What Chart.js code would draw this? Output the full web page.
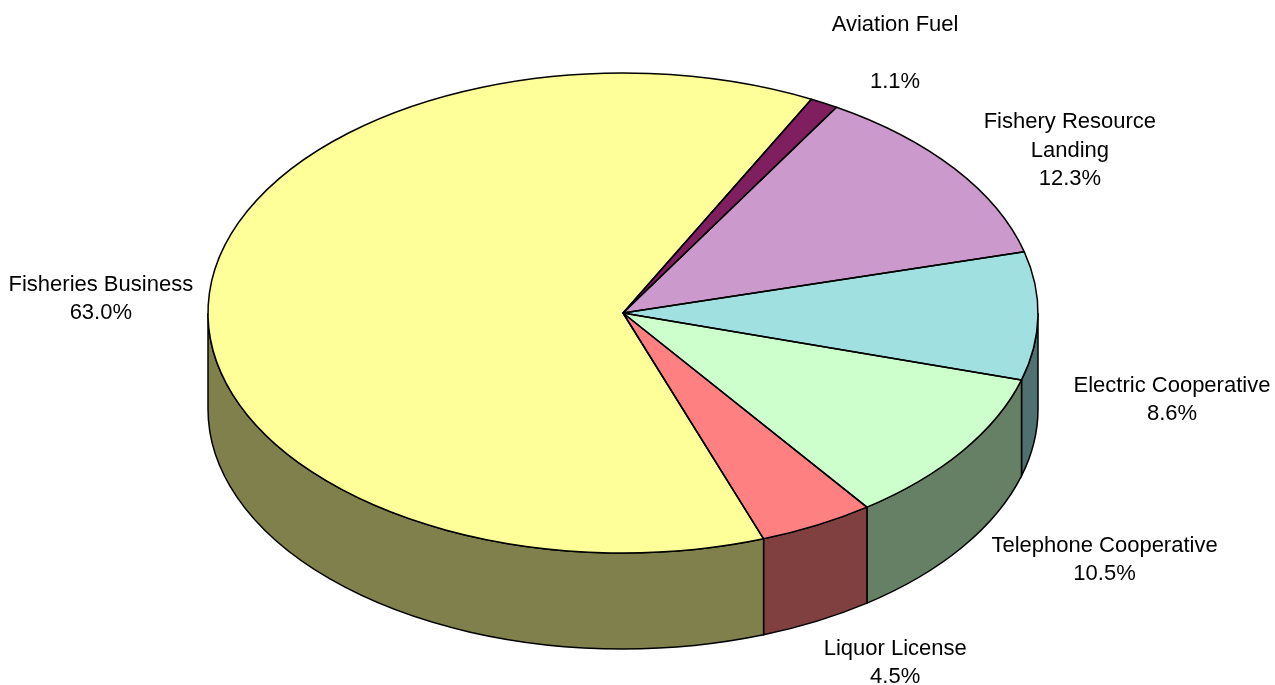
<!DOCTYPE html>
<html lang="en">
<head>
    <meta charset="UTF-8">
    <title>3D pie</title>
    <script src="https://cdn.jsdelivr.net/npm/chart.js@4"></script>
    <style>
        body { margin: 0; background: #fff; }
    </style>
</head>
<body>
    <canvas id="pieChart" width="1275" height="685"></canvas>
    <script>
        // data, clockwise from the top
        const categories = ["Aviation Fuel", "Fishery Resource\nLanding", "Electric Cooperative", "Telephone Cooperative", "Liquor License", "Fisheries Business"];
        const shares = [1.1, 12.3, 8.6, 10.5, 4.5, 63.0];
        const topColors = ["#801F60", "#CC99CC", "#A0E0E0", "#CCFFCC", "#FF8080", "#FFFF99"];
        const sideColors = ["#400F30", "#664C66", "#4F7070", "#668066", "#804040", "#80804C"];

        // layout stuff
        const xStretch = 415 / 240;
        const depth = 96;
        const labelOffsets = [[71, -50], [115, -18], [134, 84], [142, 109], [78, 138], [-108, 1]];
        const labelLineH = 28.5;

        function frontRanges(a0, a1) {
            let out = [];
            for (let k = -1; k <= 1; k++) {
                let s = Math.max(a0, k * 2 * Math.PI);
                let e = Math.min(a1, k * 2 * Math.PI + Math.PI);
                if (e > s) out.push([s, e]);
            }
            return out;
        }

        const pie3d = {
            id: "pie3d",
            beforeDatasetsDraw(chart) {
                const ctx = chart.ctx;
                const arcs = chart.getDatasetMeta(0).data;
                ctx.save();
                ctx.lineWidth = 1.5;
                ctx.strokeStyle = "#000";
                arcs.forEach((arc, i) => {
                    const cx = arc.x, cy = arc.y;
                    const ry = arc.outerRadius, rx = ry * xStretch;
                    frontRanges(arc.startAngle, arc.endAngle).forEach(([s, e]) => {
                        ctx.beginPath();
                        ctx.moveTo(cx + rx * Math.cos(s), cy + ry * Math.sin(s));
                        ctx.ellipse(cx, cy, rx, ry, 0, s, e, false);
                        ctx.lineTo(cx + rx * Math.cos(e), cy + depth + ry * Math.sin(e));
                        ctx.ellipse(cx, cy + depth, rx, ry, 0, e, s, true);
                        ctx.closePath();
                        ctx.fillStyle = sideColors[i];
                        ctx.fill();
                        ctx.stroke();
                    });
                });
                ctx.restore();
            },
            beforeDatasetDraw(chart) {
                const ctx = chart.ctx;
                const arc = chart.getDatasetMeta(0).data[0];
                ctx.save();
                ctx.translate(arc.x, arc.y);
                ctx.scale(xStretch, 1);
                ctx.translate(-arc.x, -arc.y);
            },
            afterDatasetDraw(chart) {
                chart.ctx.restore();
            },
            afterDatasetsDraw(chart) {
                const ctx = chart.ctx;
                const arcs = chart.getDatasetMeta(0).data;
                ctx.save();
                ctx.lineWidth = 1.5;
                ctx.strokeStyle = "#000";
                ctx.lineJoin = "round";
                arcs.forEach(arc => {
                    const cx = arc.x, cy = arc.y;
                    const ry = arc.outerRadius, rx = ry * xStretch;
                    ctx.beginPath();
                    ctx.moveTo(cx, cy);
                    ctx.lineTo(cx + rx * Math.cos(arc.startAngle), cy + ry * Math.sin(arc.startAngle));
                    ctx.ellipse(cx, cy, rx, ry, 0, arc.startAngle, arc.endAngle, false);
                    ctx.closePath();
                    ctx.stroke();
                });

                // labels
                ctx.fillStyle = "#000";
                ctx.font = "22px 'Liberation Sans', Arial, sans-serif";
                ctx.textAlign = "center";
                ctx.textBaseline = "middle";
                arcs.forEach((arc, i) => {
                    const cx = arc.x, cy = arc.y;
                    const ry = arc.outerRadius, rx = ry * xStretch;
                    const mid = (arc.startAngle + arc.endAngle) / 2;
                    const x = cx + rx * Math.cos(mid) + labelOffsets[i][0];
                    const y = cy + ry * Math.sin(mid) + labelOffsets[i][1];
                    let lines = categories[i].split("\n");
                    if (i === 0) lines.push("");
                    lines.push(shares[i].toFixed(1) + "%");
                    lines.forEach((t, j) => {
                        ctx.fillText(t, x, y + (j - (lines.length - 1) / 2) * labelLineH);
                    });
                });
                ctx.restore();
            }
        };

        let pieCtx = document.getElementById("pieChart").getContext("2d");
        let pieChart = new Chart(pieCtx, {
            type: "pie",
            data: {
                labels: categories,
                datasets: [{
                    data: shares,
                    backgroundColor: topColors,
                    borderWidth: 0,
                    clip: false
                }]
            },
            options: {
                responsive: false,
                animation: false,
                rotation: 27,
                layout: {
                    padding: { left: 300, right: 329, top: 73, bottom: 132 }
                },
                plugins: {
                    legend: { display: false },
                    tooltip: { enabled: false }
                }
            },
            plugins: [pie3d]
        });
    </script>
</body>
</html>
